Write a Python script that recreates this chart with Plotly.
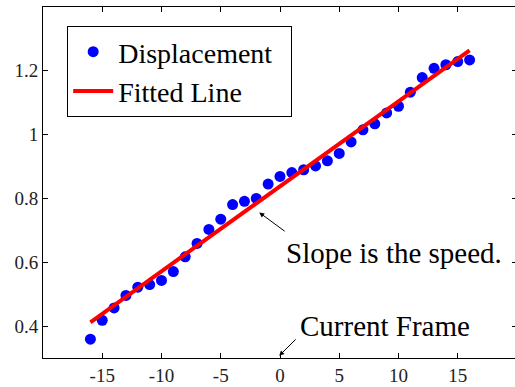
import plotly.graph_objects as go

frames = list(range(-16, 17))
displacement = [0.359, 0.418, 0.457, 0.496, 0.522, 0.530, 0.543, 0.571, 0.617, 0.659,
                0.703, 0.735, 0.781, 0.791, 0.800, 0.845, 0.869, 0.881, 0.890, 0.902,
                0.918, 0.941, 0.977, 1.015, 1.034, 1.068, 1.089, 1.133, 1.179, 1.208,
                1.219, 1.229, 1.234]
fit_x = [-16, 16]
fit_y = [0.412, 1.264]

x_ticks = [-15, -10, -5, 0, 5, 10, 15]
x_tick_labels = ["-15", "-10", "-5", "0", "5", "10", "15"]
y_ticks = [0.4, 0.6, 0.8, 1.0, 1.2]
y_tick_labels = ["0.4", "0.6", "0.8", "1", "1.2"]

serif = "Liberation Serif, Times New Roman, serif"

fig = go.Figure()
fig.add_trace(go.Scatter(x=frames, y=displacement, mode="markers", name="Displacement\u00a0\u00a0",
                         marker=dict(color="#0000ff", size=11)))
fig.add_trace(go.Scatter(x=fit_x, y=fit_y, mode="lines", name="Fitted Line",
                         line=dict(color="#ff0000", width=4)))

axis_common = dict(showline=True, linecolor="black", linewidth=1, mirror="ticks",
                   ticks="inside", ticklen=5, tickcolor="black", showgrid=False,
                   zeroline=False, tickfont=dict(family=serif, size=19, color="#222"))
fig.update_xaxes(range=[-20, 20], tickvals=x_ticks, ticktext=x_tick_labels, **axis_common)
fig.update_yaxes(range=[0.3, 1.4], tickvals=y_ticks, ticktext=y_tick_labels, **axis_common)

# arrows
fig.add_annotation(x=-1.75, y=0.756, ax=0.52, ay=0.694, xref="x", yref="y", axref="x", ayref="y",
                   text="", showarrow=True, arrowhead=2, arrowsize=1, arrowwidth=1, arrowcolor="black")
fig.add_annotation(x=-0.07, y=0.307, ax=1.45, ay=0.363, xref="x", yref="y", axref="x", ayref="y",
                   text="", showarrow=True, arrowhead=2, arrowsize=1, arrowwidth=1, arrowcolor="black")
fig.add_annotation(x=9.61, y=0.630, xref="x", yref="y", text="Slope is the speed.", showarrow=False,
                   font=dict(family=serif, size=29, color="black"))
fig.add_annotation(x=8.9, y=0.400, xref="x", yref="y", text="Current Frame", showarrow=False,
                   font=dict(family=serif, size=29, color="black"))

fig.update_layout(
    width=519, height=387,
    margin=dict(l=43, r=1, t=7, b=25),
    paper_bgcolor="white", plot_bgcolor="white",
    showlegend=True,
    legend=dict(x=0.051, y=0.946, xanchor="left", yanchor="top",
                bordercolor="black", borderwidth=1, bgcolor="white",
                font=dict(family=serif, size=28, color="black"),
                tracegroupgap=0, itemwidth=40),
)

fig.write_html("out.html", config={"displayModeBar": False},
               post_script="document.body.style.margin='0';document.body.style.overflow='hidden';")
